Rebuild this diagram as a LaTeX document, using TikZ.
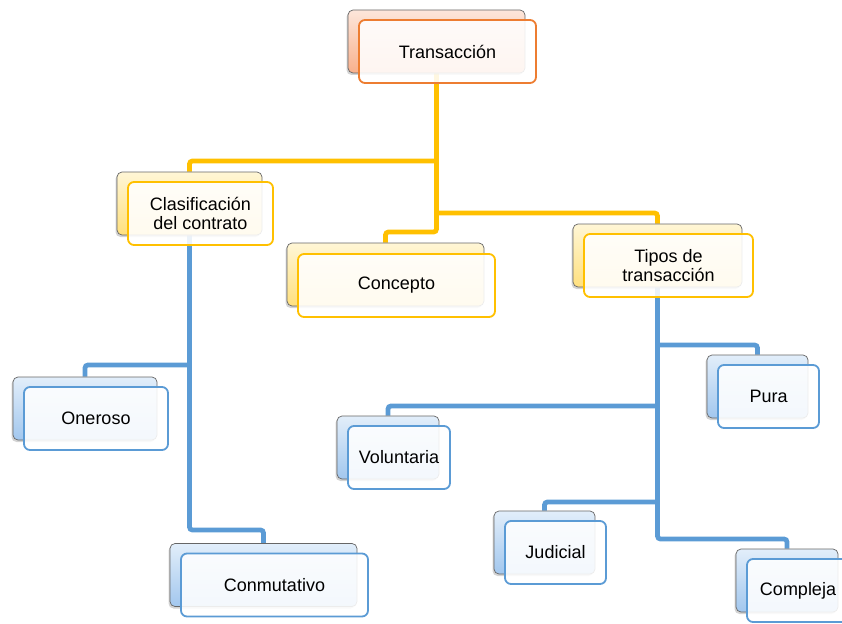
\documentclass[tikz,border=0pt]{standalone}
\usepackage{fontspec}
\setmainfont{Liberation Sans}
\usepackage{tikz}
\usetikzlibrary{backgrounds, shadows}

\definecolor{naranja}{HTML}{ED7D31}
\definecolor{amarillo}{HTML}{FFC000}
\definecolor{azul}{HTML}{5B9BD5}
\definecolor{naranjaA}{HTML}{FDE6DA}
\definecolor{naranjaB}{HTML}{F8B08C}
\definecolor{amarilloA}{HTML}{FFF6D6}
\definecolor{amarilloB}{HTML}{FFE07E}
\definecolor{azulA}{HTML}{E2EEFA}
\definecolor{azulB}{HTML}{A2C7EE}

\tikzset{
	atras/.style 2 args={draw=gray!80!black, line width=0.7pt, rounded corners=5pt,
		minimum height=63pt, inner sep=0pt, top color=#1, bottom color=#2,
		drop shadow={shadow xshift=-1.5pt, shadow yshift=-2pt, opacity=0.35}},
	frente/.style={draw=#1, line width=1.8pt, rounded corners=6pt, minimum height=63pt,
		inner sep=0pt, fill=white, fill opacity=0.88, text opacity=1, align=center,
		font=\fontsize{18}{18.5}\selectfont},
	rama/.style={draw=#1, line width=4.8pt, rounded corners=3pt}
}

\begin{document}
\begin{tikzpicture}[x=1pt, y=-1pt]
		\clip (0,0) rectangle (842,623);
		
		% raiz
		\node[atras={naranjaA}{naranjaB}, minimum width=177pt] (trab) at (436.5,41.5) {};
		\node[frente=naranja, minimum width=177pt] (tra) at ([shift={(11,10)}]trab.center) {Transacción};
		
		% primer nivel
		\node[atras={amarilloA}{amarilloB}, minimum width=145pt] (clab) at (189.5,203.5) {};
		\node[frente=amarillo, minimum width=145pt] (cla) at ([shift={(11,10)}]clab.center) {Clasificación\\del contrato};
		
		\node[atras={amarilloA}{amarilloB}, minimum width=197pt] (conb) at (385.5,274.5) {};
		\node[frente=amarillo, minimum width=197pt] (con) at ([shift={(11,11)}]conb.center) {Concepto};
		
		\node[atras={amarilloA}{amarilloB}, minimum width=169pt] (tipb) at (657.5,255.5) {};
		\node[frente=amarillo, minimum width=169pt] (tip) at ([shift={(11,10)}]tipb.center) {Tipos de\\transacción};
		
		% segundo nivel
		\node[atras={azulA}{azulB}, minimum width=144pt] (oneb) at (85,408.5) {};
		\node[frente=azul, minimum width=144pt] (one) at ([shift={(11,10)}]oneb.center) {Oneroso};
		
		\node[atras={azulA}{azulB}, minimum width=187pt] (conmb) at (263.5,575) {};
		\node[frente=azul, minimum width=187pt] (conm) at ([shift={(11,10)}]conmb.center) {Conmutativo};
		
		\node[atras={azulA}{azulB}, minimum width=101pt] (purb) at (757.5,386.5) {};
		\node[frente=azul, minimum width=101pt] (pur) at ([shift={(11,10)}]purb.center) {Pura};
		
		\node[atras={azulA}{azulB}, minimum width=102pt] (volb) at (388,447.5) {};
		\node[frente=azul, minimum width=102pt] (vol) at ([shift={(11,10)}]volb.center) {Voluntaria};
		
		\node[atras={azulA}{azulB}, minimum width=101pt] (judb) at (544.5,542.5) {};
		\node[frente=azul, minimum width=101pt] (jud) at ([shift={(11,10)}]judb.center) {Judicial};
		
		\node[atras={azulA}{azulB}, minimum width=102pt] (comb) at (787,580.5) {};
		\node[frente=azul, minimum width=102pt] (com) at ([shift={(11,10)}]comb.center) {Compleja};
		
		\begin{scope}[on background layer]
			\draw[rama=amarillo] (trab.south) -- (trab.south |- 0,232) -| (conb.north);
			\draw[rama=amarillo] (trab.south |- 0,161) -| (clab.north);
			\draw[rama=amarillo] (trab.south |- 0,213) -| (tipb.north);
			
			\draw[rama=azul] (clab.south) -- (clab.south |- 0,530) -| (conmb.north);
			\draw[rama=azul] (clab.south |- 0,365) -| (oneb.north);
			
			\draw[rama=azul] (tipb.south) -- (tipb.south |- 0,539) -| (comb.north);
			\draw[rama=azul] (tipb.south |- 0,345) -| (purb.north);
			\draw[rama=azul] (tipb.south |- 0,406) -| (volb.north);
			\draw[rama=azul] (tipb.south |- 0,502) -| (judb.north);
		\end{scope}

	\end{tikzpicture}
\end{document}
